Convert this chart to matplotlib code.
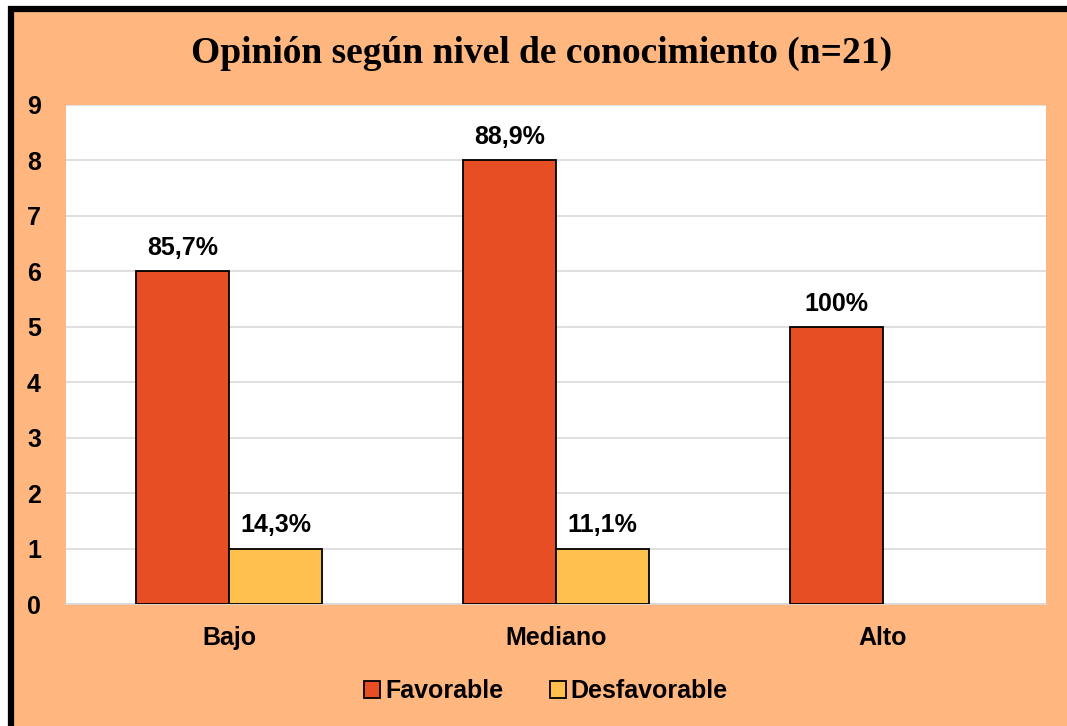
import matplotlib
matplotlib.use("Agg")
import matplotlib.pyplot as plt
import numpy as np
from matplotlib.patches import Rectangle

categories = ["Bajo", "Mediano", "Alto"]
favorable = [6, 8, 5]
desfavorable = [1, 1, 0]
fav_labels = ["85,7%", "88,9%", "100%"]
desf_labels = ["14,3%", "11,1%", ""]
yticks = list(range(0, 10))

W, H = 1067, 726
fig = plt.figure(figsize=(W / 100, H / 100), dpi=100)
fig.patch.set_facecolor("white")
bg = "#FFB67F"
# orange background with thick black border on left/top
fig.patches.append(Rectangle((8 / W, 0), 1, 1 - 6 / H, transform=fig.transFigure,
                             facecolor=bg, edgecolor="none", zorder=-10))
fig.add_artist(plt.Line2D([11 / W, 11 / W], [0, 1 - 6 / H], transform=fig.transFigure,
                          color="black", lw=4.5, solid_capstyle="butt"))
fig.add_artist(plt.Line2D([8 / W, 1], [1 - 9 / H, 1 - 9 / H], transform=fig.transFigure,
                          color="black", lw=4.5, solid_capstyle="butt"))

FS = 18
ax = fig.add_axes([66 / W, 1 - 604 / H, (1046 - 66) / W, (604 - 105) / H])
ax.set_facecolor("white")
x = np.arange(len(categories))
w = 0.285
b1 = ax.bar(x - w / 2, favorable, w, color="#E84E24", edgecolor="black",
            lw=[1.3 if v > 0 else 0 for v in favorable], zorder=3, label="Favorable")
b2 = ax.bar(x + w / 2, desfavorable, w, color="#FFC04D", edgecolor="black",
            lw=[1.3 if v > 0 else 0 for v in desfavorable], zorder=3, label="Desfavorable")
for rect, lab in zip(b1, fav_labels):
    ax.text(rect.get_x() + rect.get_width() / 2, rect.get_height() + 0.2, lab, ha="center", va="bottom",
            fontsize=FS, fontweight="bold", family="Liberation Sans")
for rect, lab in zip(b2, desf_labels):
    if lab:
        ax.text(rect.get_x() + rect.get_width() / 2, rect.get_height() + 0.2, lab, ha="center", va="bottom",
                fontsize=FS, fontweight="bold", family="Liberation Sans")

ax.set_xlim(-0.5, 2.5)
ax.set_ylim(0, 9)
ax.set_yticks(yticks)
ax.set_xticks(x)
ax.set_xticklabels(categories)
ax.yaxis.grid(True, color="#D9D9D9", lw=1.2, zorder=0)
ax.set_axisbelow(True)
for s in ["left", "right", "top"]:
    ax.spines[s].set_visible(False)
ax.spines["bottom"].set_color("#D9D9D9")
ax.spines["bottom"].set_linewidth(1.2)
ax.tick_params(axis="both", length=0, labelsize=FS)
ax.tick_params(axis="x", pad=16)
ax.tick_params(axis="y", pad=28)
for t in ax.get_xticklabels() + ax.get_yticklabels():
    t.set_fontweight("bold")
    t.set_family("Liberation Sans")
for t in ax.get_yticklabels():
    t.set_horizontalalignment("left")

fig.text(542 / W, 1 - 53 / H, "Opinión según nivel de conocimiento (n=21)",
         ha="center", va="center", fontsize=27, fontweight="bold", family="Liberation Serif")

leg = fig.legend(handles=[b1, b2], loc="center", bbox_to_anchor=(546 / W, 1 - 691 / H), ncol=2,
                 frameon=False, prop={"family": "Liberation Sans", "weight": "bold", "size": FS},
                 handlelength=0.65, handleheight=0.65, handletextpad=0.2, columnspacing=1.85)

fig.savefig("out.png", dpi=100, facecolor=fig.get_facecolor())
